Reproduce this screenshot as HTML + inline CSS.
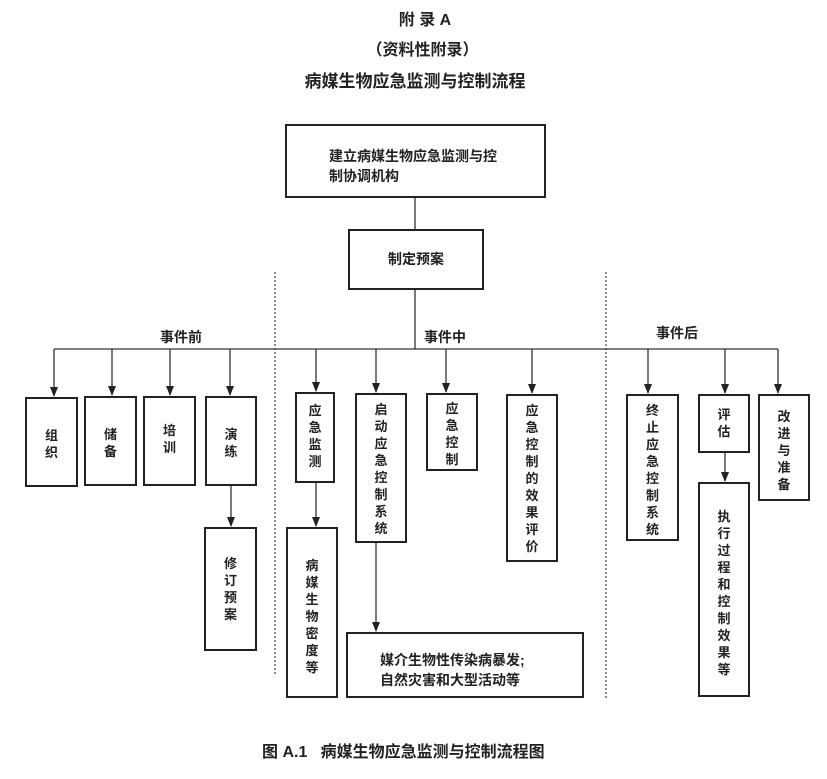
<!DOCTYPE html>
<html><head><meta charset="utf-8"><style>
body{margin:0;background:#fff;width:827px;height:779px;position:relative;overflow:hidden;font-family:"Liberation Sans","Noto Sans CJK SC",sans-serif;color:#222}
.t{position:absolute;font-weight:bold;white-space:nowrap}
.b{position:absolute;border:2px solid #222;box-sizing:border-box;font-size:13px;font-weight:bold}
.v{position:absolute;left:0;right:0;text-align:center;line-height:17px;font-size:13px;font-weight:bold}
</style></head><body>
<div class="t" style="left:0;width:850px;text-align:center;top:6px;font-size:16px">附 录 A</div>
<div class="t" style="left:0;width:845px;text-align:center;top:36px;font-size:16px">（资料性附录）</div>
<div class="t" style="left:0;width:830px;text-align:center;top:67px;font-size:17px">病媒生物应急监测与控制流程</div>

<svg style="position:absolute;left:0;top:0" width="827" height="779">
<defs><marker id="a" markerWidth="10" markerHeight="8" refX="9" refY="4" orient="auto" markerUnits="userSpaceOnUse"><path d="M0,0 L10,4 L0,8z" fill="#222"/></marker></defs>
<g stroke="#333" stroke-width="1.3" fill="none">
<line x1="415" y1="198" x2="415" y2="229"/>
<line x1="415" y1="290" x2="415" y2="349"/>
<line x1="54" y1="349" x2="778" y2="349"/>
<line x1="54" y1="349" x2="54" y2="396" marker-end="url(#a)"/>
<line x1="112" y1="349" x2="112" y2="395" marker-end="url(#a)"/>
<line x1="170" y1="349" x2="170" y2="395" marker-end="url(#a)"/>
<line x1="230" y1="349" x2="230" y2="395" marker-end="url(#a)"/>
<line x1="316" y1="349" x2="316" y2="391" marker-end="url(#a)"/>
<line x1="376" y1="349" x2="376" y2="392" marker-end="url(#a)"/>
<line x1="446" y1="349" x2="446" y2="392" marker-end="url(#a)"/>
<line x1="532" y1="349" x2="532" y2="393" marker-end="url(#a)"/>
<line x1="648" y1="349" x2="648" y2="393" marker-end="url(#a)"/>
<line x1="725" y1="349" x2="725" y2="393" marker-end="url(#a)"/>
<line x1="778" y1="349" x2="778" y2="393" marker-end="url(#a)"/>
<line x1="231" y1="486" x2="231" y2="526" marker-end="url(#a)"/>
<line x1="316" y1="483" x2="316" y2="526" marker-end="url(#a)"/>
<line x1="376" y1="543" x2="376" y2="631" marker-end="url(#a)"/>
<line x1="725" y1="453" x2="725" y2="481" marker-end="url(#a)"/>
</g>
<g stroke="#444" stroke-width="1.2" stroke-dasharray="2,2">
<line x1="275" y1="272" x2="275" y2="675"/>
<line x1="606" y1="272" x2="606" y2="700"/>
</g>
</svg>

<div class="b" style="left:285px;top:124px;width:261px;height:74px;font-size:14px"><div style="position:absolute;left:42px;top:20px;line-height:20px">建立病媒生物应急监测与控<br>制协调机构</div></div>
<div class="b" style="left:348px;top:229px;width:136px;height:61px;text-align:center;line-height:57px;font-size:14px">制定预案</div>

<div class="t" style="left:160px;top:327px;font-size:14px">事件前</div>
<div class="t" style="left:424px;top:327px;font-size:14px">事件中</div>
<div class="t" style="left:656px;top:323px;font-size:14px">事件后</div>

<div class="b" style="left:25px;top:397px;width:53px;height:90px"><div class="v" style="top:28px">组<br>织</div></div>
<div class="b" style="left:84px;top:396px;width:53px;height:90px"><div class="v" style="top:28px">储<br>备</div></div>
<div class="b" style="left:143px;top:396px;width:53px;height:90px"><div class="v" style="top:24px">培<br>训</div></div>
<div class="b" style="left:205px;top:396px;width:52px;height:90px"><div class="v" style="top:28px">演<br>练</div></div>
<div class="b" style="left:295px;top:392px;width:40px;height:91px"><div class="v" style="top:8px">应<br>急<br>监<br>测</div></div>
<div class="b" style="left:355px;top:393px;width:52px;height:150px"><div class="v" style="top:6px">启<br>动<br>应<br>急<br>控<br>制<br>系<br>统</div></div>
<div class="b" style="left:426px;top:393px;width:52px;height:78px"><div class="v" style="top:5px">应<br>急<br>控<br>制</div></div>
<div class="b" style="left:506px;top:394px;width:52px;height:168px"><div class="v" style="top:6px">应<br>急<br>控<br>制<br>的<br>效<br>果<br>评<br>价</div></div>
<div class="b" style="left:626px;top:394px;width:53px;height:147px"><div class="v" style="top:6px">终<br>止<br>应<br>急<br>控<br>制<br>系<br>统</div></div>
<div class="b" style="left:698px;top:394px;width:52px;height:59px"><div class="v" style="top:10px">评<br>估</div></div>
<div class="b" style="left:758px;top:394px;width:52px;height:107px"><div class="v" style="top:12px">改<br>进<br>与<br>准<br>备</div></div>
<div class="b" style="left:698px;top:482px;width:52px;height:215px"><div class="v" style="top:24px">执<br>行<br>过<br>程<br>和<br>控<br>制<br>效<br>果<br>等</div></div>
<div class="b" style="left:204px;top:527px;width:53px;height:124px"><div class="v" style="top:26px">修<br>订<br>预<br>案</div></div>
<div class="b" style="left:286px;top:527px;width:52px;height:171px"><div class="v" style="top:28px">病<br>媒<br>生<br>物<br>密<br>度<br>等</div></div>
<div class="b" style="left:346px;top:632px;width:238px;height:66px;font-size:14px"><div style="position:absolute;left:32px;top:16px;line-height:20px">媒介生物性传染病暴发;<br>自然灾害和大型活动等</div></div>

<div class="t" style="left:262px;top:738px;font-size:16px">图 A.1&nbsp;&nbsp;&nbsp;病媒生物应急监测与控制流程图</div>
</body></html>
